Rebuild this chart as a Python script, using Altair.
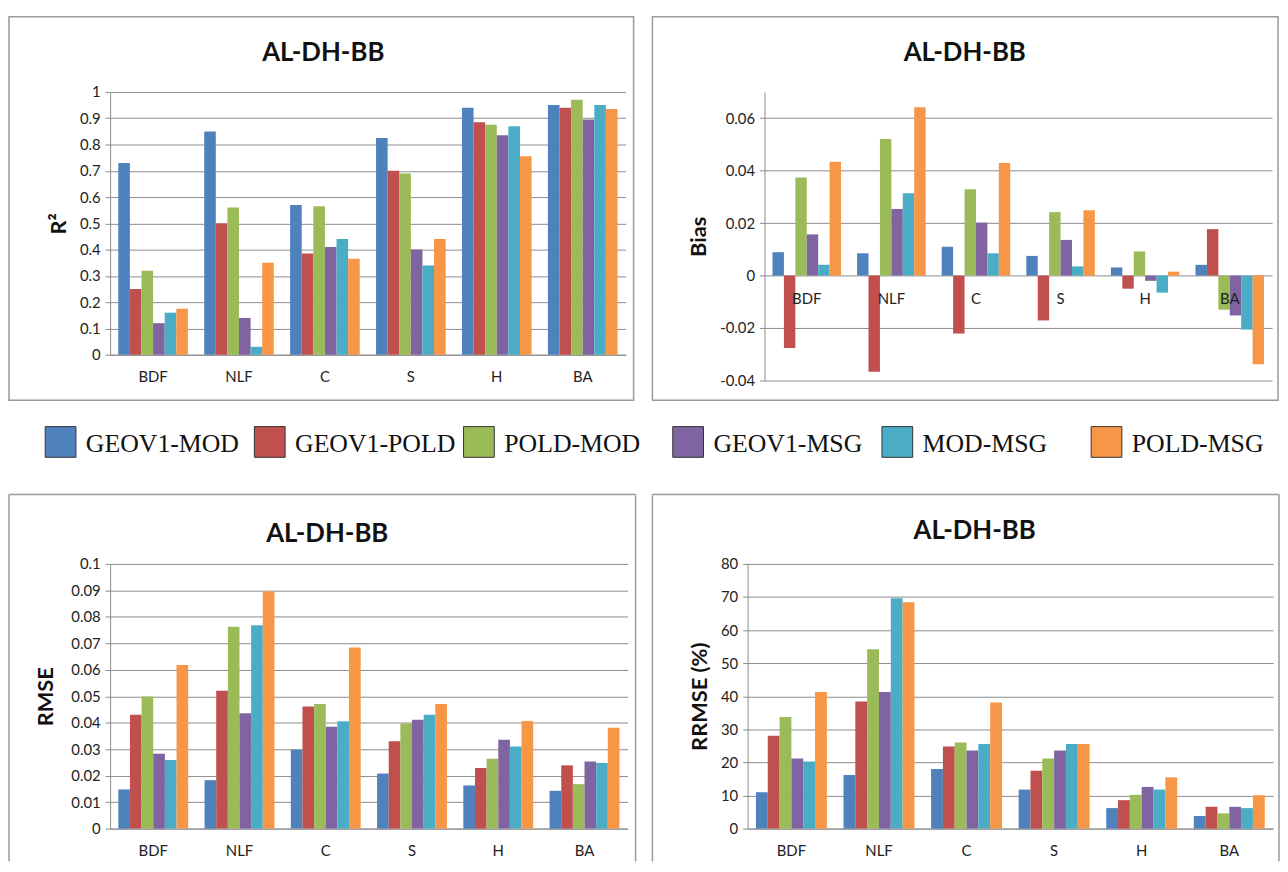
import altair as alt
import pandas as pd

categories = ["BDF", "NLF", "C", "S", "H", "BA"]
series = ["GEOV1-MOD", "GEOV1-POLD", "POLD-MOD", "GEOV1-MSG", "MOD-MSG", "POLD-MSG"]
colors = ["#4F81BD", "#C0504D", "#9BBB59", "#8064A2", "#4BACC6", "#F79646"]

# values per series, in category order BDF, NLF, C, S, H, BA
r2_geov1_mod = [0.73, 0.85, 0.57, 0.825, 0.94, 0.95]
r2_geov1_pold = [0.25, 0.50, 0.385, 0.70, 0.885, 0.94]
r2_pold_mod = [0.32, 0.56, 0.565, 0.69, 0.875, 0.97]
r2_geov1_msg = [0.12, 0.14, 0.41, 0.40, 0.835, 0.895]
r2_mod_msg = [0.16, 0.03, 0.44, 0.34, 0.87, 0.95]
r2_pold_msg = [0.175, 0.35, 0.365, 0.44, 0.755, 0.935]

bias_geov1_mod = [0.0089, 0.0085, 0.011, 0.0075, 0.0031, 0.0041]
bias_geov1_pold = [-0.0276, -0.0367, -0.0221, -0.0171, -0.005, 0.0177]
bias_pold_mod = [0.0374, 0.0521, 0.0329, 0.0242, 0.0092, -0.013]
bias_geov1_msg = [0.0157, 0.0254, 0.0202, 0.0136, -0.002, -0.0152]
bias_mod_msg = [0.0041, 0.0314, 0.0085, 0.0035, -0.0065, -0.0206]
bias_pold_msg = [0.0434, 0.0642, 0.0429, 0.0249, 0.0015, -0.0338]

rmse_geov1_mod = [0.0148, 0.0183, 0.0298, 0.0208, 0.0163, 0.0143]
rmse_geov1_pold = [0.043, 0.0521, 0.0461, 0.033, 0.0229, 0.0239]
rmse_pold_mod = [0.0499, 0.0763, 0.0471, 0.0397, 0.0264, 0.0168]
rmse_geov1_msg = [0.0283, 0.0436, 0.0385, 0.0411, 0.0336, 0.0254]
rmse_mod_msg = [0.0259, 0.0768, 0.0406, 0.043, 0.031, 0.0248]
rmse_pold_msg = [0.0618, 0.0896, 0.0684, 0.0471, 0.0407, 0.0381]

rrmse_geov1_mod = [11.0, 16.2, 18.0, 11.8, 6.2, 3.8]
rrmse_geov1_pold = [28.1, 38.4, 24.8, 17.5, 8.6, 6.6]
rrmse_pold_mod = [33.7, 54.2, 26.0, 21.2, 10.2, 4.6]
rrmse_geov1_msg = [21.2, 41.3, 23.6, 23.6, 12.6, 6.6]
rrmse_mod_msg = [20.3, 69.6, 25.6, 25.6, 11.8, 6.2]
rrmse_pold_msg = [41.3, 68.4, 38.1, 25.6, 15.5, 10.1]

r2_ticks = [0, 0.1, 0.2, 0.3, 0.4, 0.5, 0.6, 0.7, 0.8, 0.9, 1]
bias_ticks = [-0.04, -0.02, 0, 0.02, 0.04, 0.06]
rmse_ticks = [0, 0.01, 0.02, 0.03, 0.04, 0.05, 0.06, 0.07, 0.08, 0.09, 0.1]
rrmse_ticks = [0, 10, 20, 30, 40, 50, 60, 70, 80]

panel_title = "AL-DH-BB"

TICK_FONT = "Lato"
GRID = "#8c8c8c"
BOX = "#9a9a9a"


def long_df(cols):
    rows = []
    for s, vals in zip(series, cols):
        for c, v in zip(categories, vals):
            rows.append({"category": c, "series": s, "value": v})
    return pd.DataFrame(rows)


def panel(cols, ytitle, domain, ticks, w, h, box, tpos, inner_labels=False,
          open_bottom=False, title_pad=9):
    df = long_df(cols)
    xenc = alt.X("category:N", sort=categories,
                 scale=alt.Scale(paddingInner=0.19, paddingOuter=0.095),
                 axis=alt.Axis(title=None, labelAngle=0, ticks=False, grid=False,
                               domain=not inner_labels, domainColor=GRID,
                               labels=not inner_labels,
                               labelPadding=15,
                               labelFont=TICK_FONT, labelFontSize=15,
                               labelColor="#222"))
    bars = alt.Chart(df).mark_bar().encode(
        x=xenc,
        xOffset=alt.XOffset("series:N", sort=series,
                            scale=alt.Scale(paddingInner=0, paddingOuter=0)),
        y=alt.Y("value:Q", scale=alt.Scale(domain=domain, nice=False, zero=False),
                axis=alt.Axis(values=ticks, title=ytitle, grid=True, gridColor=GRID,
                              domainColor=GRID, tickColor=GRID, tickSize=5,
                              labelExpr="toString(datum.value)",
                              labelFont=TICK_FONT, labelFontSize=15, labelColor="#222",
                              labelPadding=5, titleFont=TICK_FONT, titleFontSize=22,
                              titleFontWeight="bold", titleColor="#111",
                              titlePadding=title_pad)),
        color=alt.Color("series:N", sort=series,
                        scale=alt.Scale(domain=series, range=colors), legend=None),
    )
    dummy = pd.DataFrame({"k": [0]})
    layers = []
    if open_bottom:
        # left, top and right edges only: the reference cuts the box at the page bottom
        for (a, b, c, d) in [(box[0], box[0], box[2], box[3]),
                             (box[0], box[1], box[2], box[2]),
                             (box[1], box[1], box[2], box[3])]:
            layers.append(alt.Chart(dummy).mark_rule(stroke=BOX, strokeWidth=1.5).encode(
                x=alt.value(a), x2=alt.value(b), y=alt.value(c), y2=alt.value(d)))
    else:
        layers.append(alt.Chart(dummy).mark_rect(
            fillOpacity=0, stroke=BOX, strokeWidth=1.5
        ).encode(x=alt.value(box[0]), x2=alt.value(box[1]),
                 y=alt.value(box[2]), y2=alt.value(box[3])))
    title = alt.Chart(dummy).mark_text(
        font=TICK_FONT, fontSize=26, fontWeight="bold", color="#111",
        align="center", baseline="alphabetic"
    ).encode(x=alt.value(tpos[0]), y=alt.value(tpos[1]), text=alt.value(panel_title))
    layers += [title, bars]
    if inner_labels:
        cat_df = pd.DataFrame({"category": categories})
        labels = alt.Chart(cat_df).mark_text(
            font=TICK_FONT, fontSize=15, color="#222", baseline="middle", dy=24
        ).encode(x=alt.X("category:N", sort=categories), y=alt.datum(0),
                 text="category:N")
        layers.append(labels)
    return alt.layer(*layers).properties(width=w, height=h)


p_r2 = panel([r2_geov1_mod, r2_geov1_pold, r2_pold_mod, r2_geov1_msg, r2_mod_msg, r2_pold_msg],
             "R²", [0, 1], r2_ticks, 520, 265, (-102, 528, -76, 311), (215, -31))
p_bias = panel([bias_geov1_mod, bias_geov1_pold, bias_pold_mod, bias_geov1_msg, bias_mod_msg, bias_pold_msg],
               "Bias", [-0.04, 0.07], bias_ticks, 512, 291, (-113, 518, -76, 311), (202, -31),
               inner_labels=True)
p_rmse = panel([rmse_geov1_mod, rmse_geov1_pold, rmse_pold_mod, rmse_geov1_msg, rmse_mod_msg, rmse_pold_msg],
               "RMSE", [0, 0.1], rmse_ticks, 522, 267, (-102, 530, -70, 300), (219, -22),
               open_bottom=True, title_pad=13)
p_rrmse = panel([rrmse_geov1_mod, rrmse_geov1_pold, rrmse_pold_mod, rrmse_geov1_msg, rrmse_mod_msg, rrmse_pold_msg],
                "RRMSE (%)", [0, 80], rrmse_ticks, 530, 267, (-96, 536, -70, 300), (229, -25),
                open_bottom=True)

leg_df = pd.DataFrame({"series": series, "idx": list(range(len(series)))})
leg_x = alt.X("idx:Q", axis=None, scale=alt.Scale(domain=[0, 5], nice=False, zero=False))
leg_sq = alt.Chart(leg_df).mark_square(size=961, opacity=1, stroke="#333", strokeWidth=1,
                                       xOffset=-50).encode(
    x=leg_x, y=alt.value(31),
    color=alt.Color("series:N", sort=series,
                    scale=alt.Scale(domain=series, range=colors), legend=None))
leg_txt = alt.Chart(leg_df).mark_text(align="left", baseline="middle", dx=-24.5,
                                      font="Liberation Serif", fontSize=26,
                                      color="#111").encode(
    x=leg_x, y=alt.value(33), text="series:N")
legend = alt.layer(leg_sq, leg_txt).properties(width=1055, height=73)

top = alt.hconcat(p_r2, p_bias, spacing=17).resolve_scale(
    x="independent", y="independent", xOffset="independent")
bottom = alt.hconcat(p_rmse, p_rrmse, spacing=15).resolve_scale(
    x="independent", y="independent", xOffset="independent")

chart = alt.vconcat(top, legend, bottom, spacing=10).resolve_scale(
    x="independent", y="independent", xOffset="independent"
).properties(
    padding={"top": 4, "left": 0, "right": 0, "bottom": 0},
    background="white",
).configure_view(stroke=None)

chart.save("out.html", embed_options={"renderer": "svg", "actions": False})
